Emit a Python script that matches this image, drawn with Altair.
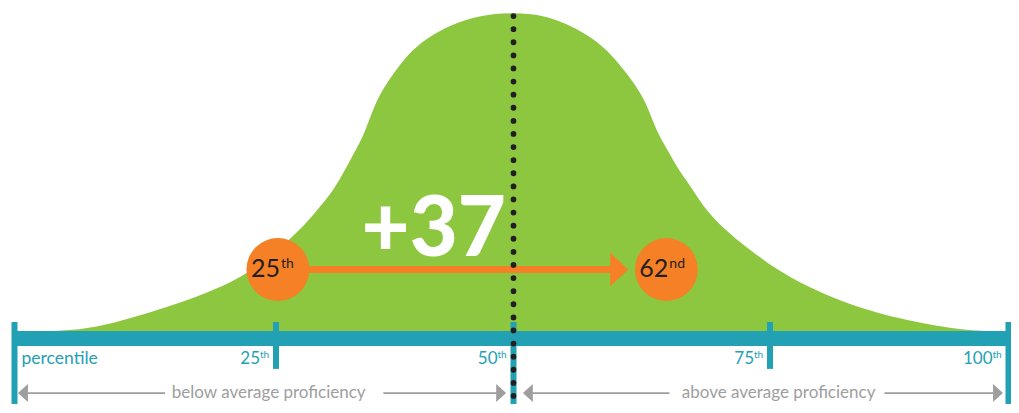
import altair as alt
import pandas as pd

# ---------------- values ----------------
# bell curve: position on the percentile axis, relative height (peak = 100)
curve_pct = [0.5, 6.5, 10.6, 14.6, 18.2, 21.9, 25.0, 27.5, 29.1, 30.6, 31.7, 33.1,
             34.1, 34.9, 35.4, 36.3, 37.5, 38.8, 40.9, 43.3, 46.5, 50.0,
             52.9, 55.5, 57.7, 59.6, 60.9, 62.1, 63.0, 63.6, 64.3, 65.3, 66.2, 67.4,
             68.2, 70.0, 73.3, 76.7, 83.6, 90.6, 95.9, 99.6]
curve_level = [0, 0, 3.5, 7.5, 11.6, 17.0, 24.8, 31.7, 37.1, 42.4, 47.4, 55.3,
               60.6, 66.9, 71.0, 76.3, 81.3, 86.7, 92.0, 96.1, 99.2, 100,
               99.2, 96.1, 92.0, 86.7, 81.3, 76.3, 71.0, 65.6, 60.6, 55.3, 49.9, 44.9,
               40.5, 33.3, 24.8, 17.0, 7.5, 2.5, 0, 0]

tick_pct = [0, 25, 50, 75, 100]
tick_num = ["25", "50", "75", "100"]
tick_num_pct = [25, 50, 75, 100]
tick_sup = ["th", "th", "th", "th"]
axis_name = "percentile"

marker_pos = [25.2, 64.9]
marker_num = ["25", "62"]
marker_sup = ["th", "nd"]
gain_label = "+37"
mean_pct = 50

below_label = "below average proficiency"
above_label = "above average proficiency"

# ---------------- layout (in axis units) ----------------
BAR_TOP, BAR_BOTTOM = 0, -4.72
TICK_TOP = 2.83
TICK_BOTTOM = [-28.0, -11.9, -28.0, -11.9, -28.0]
LABEL_BASE = -10.5
MARK_LEVEL = 19.3
MARK_TEXT_BASE = 17.0
ARROW_END = 59.5
ARROW_HEAD = 60.3
GAIN_POS, GAIN_BASE = 41.6, 23.6
DOT_TOP, DOT_BOTTOM = 98.9, -28.0
PROF_LEVEL, PROF_BASE = -19.5, -21.0
prof_seg_start = [0.81, 36.3, 51.4, 87.0]
prof_seg_end = [14.4, 48.6, 65.2, 98.9]
prof_left_tips = [0.81, 51.4]
prof_right_tips = [48.7, 98.9]
prof_text_pos = [24.3, 75.9]

GREEN = "#8DC63F"
TEAL = "#22A1B4"
ORANGE = "#F58025"
DARK = "#231F20"
GREY = "#9E9E9E"
FONT = "Lato"

X = alt.Scale(domain=[0, 25, 50, 75, 100], range=[6.5, 268, 505.5, 762, 1000.5],
              nice=False, zero=False)
Y = alt.Scale(domain=[0, 100], range=[323, 4.5], nice=False, zero=False)


def xe(f):
    return alt.X(f, type="quantitative", scale=X, axis=None)


def ye(f):
    return alt.Y(f, type="quantitative", scale=Y, axis=None)


curve_df = pd.DataFrame({"pct": curve_pct, "level": curve_level, "base": 0})
area = alt.Chart(curve_df).mark_area(color=GREEN, interpolate="basis").encode(
    x=xe("pct"), y=ye("level"), y2=alt.Y2("base"))

bar_df = pd.DataFrame({"a": [tick_pct[0]], "b": [tick_pct[-1]], "t": [BAR_TOP], "u": [BAR_BOTTOM]})
bar = alt.Chart(bar_df).mark_rect(color=TEAL).encode(
    x=xe("a"), x2=alt.X2("b"), y=ye("t"), y2=alt.Y2("u"))

ticks_df = pd.DataFrame({"pct": tick_pct, "top": TICK_TOP, "bot": TICK_BOTTOM})
ticks = alt.Chart(ticks_df).mark_rule(color=TEAL, strokeWidth=6).encode(
    x=xe("pct"), y=ye("top"), y2=alt.Y2("bot"))

lab_df = pd.DataFrame({"pct": tick_num_pct, "num": tick_num, "sup": tick_sup, "lv": LABEL_BASE})
lab_num = alt.Chart(lab_df).mark_text(align="right", baseline="alphabetic", dx=-16,
                                      font=FONT, fontSize=17, color=TEAL).encode(
    x=xe("pct"), y=ye("lv"), text="num:N")
lab_sup = alt.Chart(lab_df).mark_text(align="left", baseline="alphabetic", dx=-16, dy=-6,
                                      font=FONT, fontSize=10, color=TEAL).encode(
    x=xe("pct"), y=ye("lv"), text="sup:N")

name_df = pd.DataFrame({"pct": [tick_pct[0]], "lv": [LABEL_BASE], "t": [axis_name]})
name = alt.Chart(name_df).mark_text(align="left", baseline="alphabetic", dx=7,
                                    font=FONT, fontSize=17.5, color=TEAL).encode(
    x=xe("pct"), y=ye("lv"), text="t:N")

# proficiency arrows
seg_df = pd.DataFrame({"a": prof_seg_start, "b": prof_seg_end, "lv": PROF_LEVEL})
segs = alt.Chart(seg_df).mark_rule(color=GREY, strokeWidth=1.6).encode(
    x=xe("a"), x2=alt.X2("b"), y=ye("lv"))
lt_df = pd.DataFrame({"pct": prof_left_tips, "lv": PROF_LEVEL})
lt = alt.Chart(lt_df).mark_point(shape="M0.55,-1L-0.55,0L0.55,1Z", size=324, filled=True,
                                 color=GREY, opacity=1, strokeWidth=0).encode(
    x=xe("pct"), y=ye("lv"))
rt_df = pd.DataFrame({"pct": prof_right_tips, "lv": PROF_LEVEL})
rt = alt.Chart(rt_df).mark_point(shape="M-0.55,-1L0.55,0L-0.55,1Z", size=324, filled=True,
                                 color=GREY, opacity=1, strokeWidth=0).encode(
    x=xe("pct"), y=ye("lv"))
pt_df = pd.DataFrame({"pct": prof_text_pos, "lv": PROF_BASE, "t": [below_label, above_label]})
pt = alt.Chart(pt_df).mark_text(align="center", baseline="alphabetic", font=FONT,
                                fontSize=17, color=GREY).encode(
    x=xe("pct"), y=ye("lv"), text="t:N")

# orange arrow + markers
arr_df = pd.DataFrame({"a": [marker_pos[0]], "b": [ARROW_END], "lv": [MARK_LEVEL]})
arr = alt.Chart(arr_df).mark_rule(color=ORANGE, strokeWidth=7).encode(
    x=xe("a"), x2=alt.X2("b"), y=ye("lv"))
head_df = pd.DataFrame({"pct": [ARROW_HEAD], "lv": [MARK_LEVEL]})
head = alt.Chart(head_df).mark_point(shape="M-0.53,-1L0.53,0L-0.53,1Z", size=1156, filled=True,
                                     color=ORANGE, opacity=1, strokeWidth=0).encode(
    x=xe("pct"), y=ye("lv"))
mk_df = pd.DataFrame({"pct": marker_pos, "lv": MARK_LEVEL, "tl": MARK_TEXT_BASE,
                      "num": marker_num, "sup": marker_sup})
circles = alt.Chart(mk_df).mark_circle(size=3960, color=ORANGE, opacity=1).encode(
    x=xe("pct"), y=ye("lv"))
mk_num = alt.Chart(mk_df).mark_text(align="right", baseline="alphabetic", dx=2,
                                    font=FONT, fontSize=25, color=DARK).encode(
    x=xe("pct"), y=ye("tl"), text="num:N")
mk_sup = alt.Chart(mk_df).mark_text(align="left", baseline="alphabetic", dx=3, dy=-9,
                                    font=FONT, fontSize=14, color=DARK).encode(
    x=xe("pct"), y=ye("tl"), text="sup:N")

gain_df = pd.DataFrame({"pct": [GAIN_POS], "lv": [GAIN_BASE], "t": [gain_label]})
gain = alt.Chart(gain_df).mark_text(align="center", baseline="alphabetic", font=FONT,
                                    fontSize=83, fontWeight=900, color="white").encode(
    x=xe("pct"), y=ye("lv"), text="t:N")

dot_df = pd.DataFrame({"pct": [mean_pct], "a": [DOT_TOP], "b": [DOT_BOTTOM]})
dots = alt.Chart(dot_df).mark_rule(color=DARK, strokeWidth=5.7, strokeDash=[0.1, 13],
                                   strokeCap="round").encode(
    x=xe("pct"), y=ye("a"), y2=alt.Y2("b"))

chart = alt.layer(area, bar, ticks, lab_num, lab_sup, name, segs, lt, rt, pt,
                  arr, head, circles, mk_num, mk_sup, gain, dots).properties(
    width=1003, height=396,
    autosize=alt.AutoSizeParams(type="none"),
    padding={"left": 0, "top": 0, "right": 0, "bottom": 0},
    background="white",
).configure_view(stroke=None)

chart.save("out.html", embed_options={"renderer": "svg", "actions": False})
